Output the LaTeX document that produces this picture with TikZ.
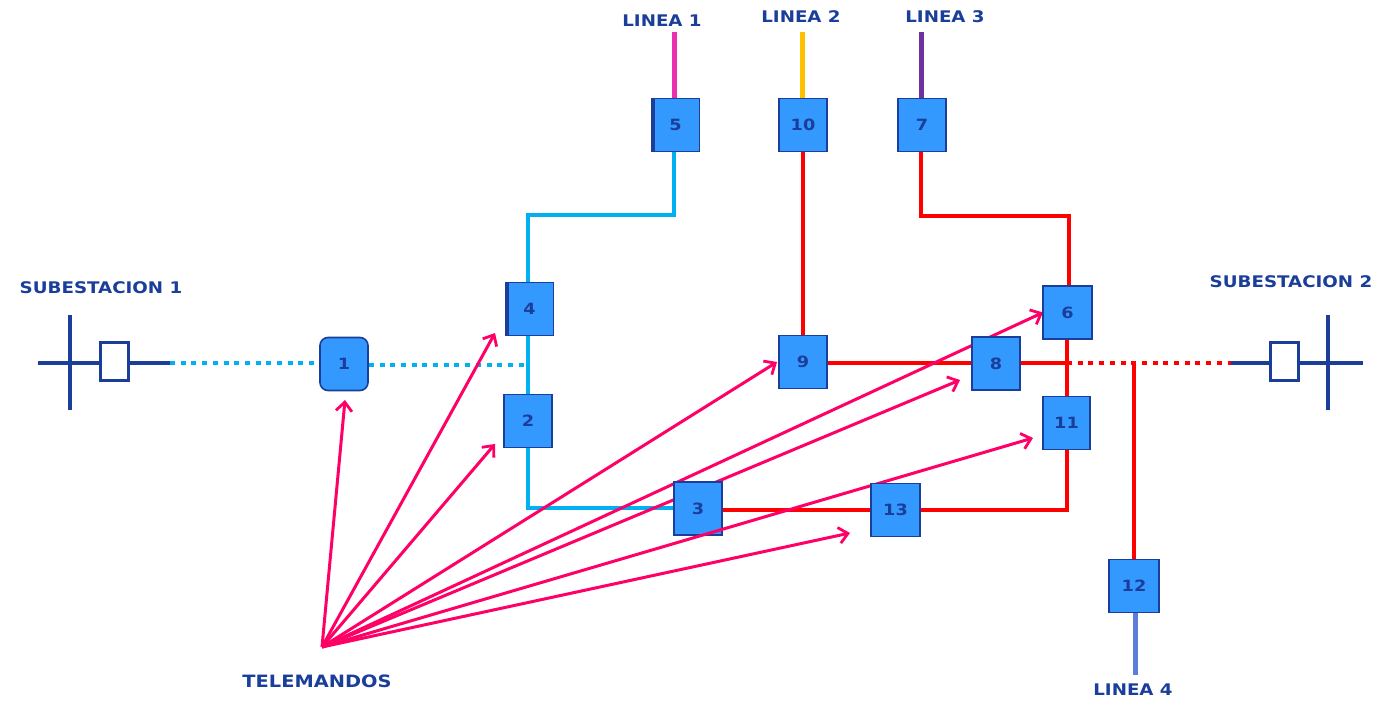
\documentclass[tikz,border=0pt]{standalone}
\usepackage{fontspec}
\setmainfont[FakeStretch=1.14]{DejaVu Sans}
\usetikzlibrary{arrows.meta,backgrounds,calc}
\definecolor{navy}{HTML}{1A3E9A}
\definecolor{boxblue}{HTML}{3399FF}
\definecolor{cyanline}{HTML}{00B0F0}
\definecolor{redline}{HTML}{FF0000}
\definecolor{pinkarrow}{HTML}{FF0066}
\definecolor{l1col}{HTML}{E92FB0}
\definecolor{l2col}{HTML}{FFC000}
\definecolor{l3col}{HTML}{7030A0}
\definecolor{l4col}{HTML}{5B7FD8}
\tikzset{
  x=1pt,y=-1pt,
  sw/.style={draw=navy,line width=1.6pt,fill=boxblue,text=navy,font=\fontsize{15.5}{16}\selectfont\bfseries,inner sep=0pt,minimum width=#1,minimum height=53pt},
  sw/.default=48pt,
  thickleft/.style={path picture={\draw[navy,line width=6pt] (path picture bounding box.north west) -- (path picture bounding box.south west);}},
  lab/.style={text=navy,font=\fontsize{16}{16}\selectfont\bfseries,inner sep=0pt},
  cy/.style={draw=cyanline,line width=4.6pt},
  re/.style={draw=redline,line width=4.6pt},
  dots/.style={dash pattern=on 5pt off 5.7pt},
  feed/.style={line width=5pt},
  bus/.style={draw=navy,line width=4.6pt},
  cb/.style={draw=navy,line width=3pt,fill=white,inner sep=0pt,minimum width=28pt,minimum height=38pt},
  tm/.style={draw=pinkarrow,line width=3pt,-{Straight Barb[length=9pt,width=16pt,line width=2.8pt]}},
}
\begin{document}
\begin{tikzpicture}
\useasboundingbox (0,0) rectangle (1390,701);
% switches
\coordinate (fan) at (322,647);
\node[sw,rounded corners=8pt] (n1) at (344,364) {1};
\node[sw=48pt,thickleft] (n5) at (675.5,125) {5};
\node[sw] (n10) at (803,125) {10};
\node[sw] (n7) at (922,125) {7};
\node[sw=48pt,thickleft] (n4) at (529.5,309) {4};
\node[sw] (n2) at (528,421) {2};
\node[sw] (n9) at (803,362) {9};
\node[sw=49pt] (n6) at (1067.5,312.5) {6};
\node[sw] (n8) at (996,363.5) {8};
\node[sw=47pt] (n11) at (1066.5,423) {11};
\node[sw] (n3) at (698,508.5) {3};
% this arrow runs over the corner of switch 3 and behind switch 13
\draw[tm] (fan) -- ($(n11)+(-33.5,15)$);
\node[sw=49pt] (n13) at (895.5,510) {13};
\node[sw=50pt] (n12) at (1134,586) {12};
% substations
\node[cb] (cbl) at (114,361) {};
\node[cb] (cbr) at (1284.5,361) {};
% labels
\node[lab] (tl1) at (662,21) {LINEA 1};
\node[lab] (tl2) at (801,17) {LINEA 2};
\node[lab] (tl3) at (945,17) {LINEA 3};
\node[lab] (tl4) at (1133,690) {LINEA 4};
\node[lab] (ts1) at (101,288) {SUBESTACION 1};
\node[lab] (ts2) at (1291,282) {SUBESTACION 2};
\node[lab,font=\fontsize{17}{18}\selectfont\bfseries] (ttm) at (317,681) {TELEMANDOS};
% free ends
\coordinate (e1) at (674,32);
\coordinate (e2) at (802,32);
\coordinate (e3) at (921,32);
\coordinate (e4) at (1135,675);
\coordinate (jcy) at (528,365);
\coordinate (jre) at (1067,363);
\coordinate (jtap) at (1134,363);
\coordinate (buslt) at (70,315);
\coordinate (buslb) at (70,410);
\coordinate (busrt) at (1328,315);
\coordinate (busrb) at (1328,410);
\coordinate (stubl) at (38,363);
\coordinate (stubr) at (1363,363);
\coordinate (endl) at (170,363);
\coordinate (endr) at (1231,363);
\begin{scope}[on background layer]
  % incoming lines
  \draw[l1col,feed] (e1) -- (n5.north -| e1);
  \draw[l2col,feed] (e2) -- (n10.north -| e2);
  \draw[l3col,feed] (e3) -- (n7.north -| e3);
  \draw[l4col,feed] (e4) -- (n12.south -| e4);
  % cyan network
  \draw[cy] (n5.south -| e1) |- (jcy |- 0,215) -- (n4.north -| jcy);
  \draw[cy] (n4.south -| jcy) -- (n2.north -| jcy);
  \draw[cy] (n2.south -| jcy) |- (n3.west |- 0,508);
  \draw[cy,dots] (n1.east |- jcy) -- (jcy);
  \draw[cy,dots] (endl) -- (n1.west |- endl);
  % red network
  \draw[re] (n10.south -| n10) -- (n9.north -| n10);
  \draw[re] (n7.south -| e3) |- (1069,216) -- (n6.north -| 1069,0);
  \draw[re] (n6.south -| jre) -- (n11.north -| jre);
  \draw[re] (n9.east |- jre) -- (n8.west |- jre);
  \draw[re] (n8.east |- jre) -- (jre);
  \draw[re,dots] (jre) -- (endr);
  \draw[re] (n12.north -| jtap) -- (jtap);
  \draw[re] (n3.east |- 0,510) -- (n13.west |- 0,510);
  \draw[re] (n13.east |- 0,510) -| (n11.south -| jre);
  % substations
  \draw[bus] (buslt) -- (buslb);
  \draw[bus] (stubl) -- (endl);
  \draw[bus] (busrt) -- (busrb);
  \draw[bus] (endr) -- (stubr);
  % telecontrol arrows
  \draw[tm] (fan) -- ($(n1)+(1,36)$);
  \draw[tm] (fan) -- ($(n4)+(-34.5,24)$);
  \draw[tm] (fan) -- ($(n2)+(-33,23)$);
  \draw[tm] (fan) -- ($(n9)+(-26,0)$);
  \draw[tm] (fan) -- ($(n6)+(-24.5,0)$);
  \draw[tm] (fan) -- ($(n8)+(-36,16.5)$);
  \draw[tm] (fan) -- ($(n13)+(-45.5,23)$);
\end{scope}
\end{tikzpicture}
\end{document}
